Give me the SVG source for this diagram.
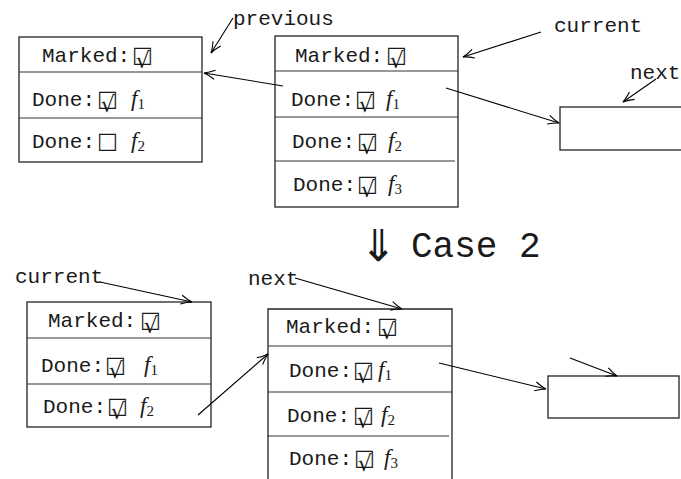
<svg xmlns="http://www.w3.org/2000/svg" width="681" height="479" viewBox="0 0 681 479">
<style>
text{font-family:"Liberation Mono","DejaVu Sans Mono",monospace;font-size:21px;fill:#1a1a1a}
.ck{font-family:"DejaVu Sans",sans-serif;font-size:22px}
.f{font-family:"Liberation Serif",serif;font-style:italic;font-size:23px}
.sub{font-family:"Liberation Serif",serif;font-size:15px}
.big{font-size:36px}
.dn{font-family:"DejaVu Sans",sans-serif;font-size:44px}
.box{fill:#fff;stroke:#222;stroke-width:1.3}
.div{stroke:#333;stroke-width:1.2;fill:none}
.con line{stroke:#000;stroke-width:1.1;fill:none;marker-end:url(#ah)}
</style>
<defs>
<marker id="ah" markerUnits="userSpaceOnUse" markerWidth="14" markerHeight="12" viewBox="-12 -6 14 12" refX="0" refY="0" orient="auto">
<path d="M-11,-4.5 Q-5,-1.2 0,0 Q-5,1.2 -11,4.5" fill="none" stroke="#000" stroke-width="1.1"/>
</marker>
</defs>
<rect width="681" height="479" fill="#fff"/>

<g id="boxA">
<rect class="box" x="19" y="37" width="183" height="125"/>
<line class="div" x1="19" y1="72" x2="202" y2="72"/>
<line class="div" x1="19" y1="118" x2="202" y2="118"/>
<text x="42" y="62">Marked:<tspan class="ck" x="132" dx="0 -17" dy="0 6">□√</tspan></text>
<text x="32" y="106">Done:<tspan class="ck" x="97" dx="0 -17" dy="0 6">□√</tspan><tspan class="f" x="131" y="106">f</tspan><tspan class="sub" y="109">1</tspan></text>
<text x="32" y="148">Done:<tspan class="ck" x="97">□</tspan><tspan class="f" x="131">f</tspan><tspan class="sub" dy="3">2</tspan></text>
</g>

<g id="boxB">
<rect class="box" x="275" y="36" width="183" height="171"/>
<line class="div" x1="275" y1="71" x2="458" y2="71"/>
<line class="div" x1="275" y1="117" x2="458" y2="117"/>
<line class="div" x1="275" y1="161" x2="455" y2="161"/>
<text x="295" y="62">Marked:<tspan class="ck" x="386" dx="0 -17" dy="0 6">□√</tspan></text>
<text x="291" y="106">Done:<tspan class="ck" x="355" dx="0 -17" dy="0 6">□√</tspan><tspan class="f" x="386" y="106">f</tspan><tspan class="sub" y="109">1</tspan></text>
<text x="292" y="148">Done:<tspan class="ck" x="357" dx="0 -17" dy="0 6">□√</tspan><tspan class="f" x="388" y="148">f</tspan><tspan class="sub" y="151">2</tspan></text>
<text x="293" y="191">Done:<tspan class="ck" x="357" dx="0 -17" dy="0 6">□√</tspan><tspan class="f" x="388" y="191">f</tspan><tspan class="sub" y="194">3</tspan></text>
</g>

<g id="boxC">
<rect class="box" x="560" y="107" width="130" height="43"/>
</g>

<g id="boxD">
<rect class="box" x="27" y="302" width="184" height="125"/>
<line class="div" x1="27" y1="338" x2="211" y2="338"/>
<line class="div" x1="27" y1="384" x2="211" y2="384"/>
<text x="48" y="327">Marked:<tspan class="ck" x="140" dx="0 -17" dy="0 6">□√</tspan></text>
<text x="41" y="372">Done:<tspan class="ck" x="105" dx="0 -17" dy="0 6">□√</tspan><tspan class="f" x="144" y="372">f</tspan><tspan class="sub" y="375">1</tspan></text>
<text x="43" y="413">Done:<tspan class="ck" x="107" dx="0 -17" dy="0 6">□√</tspan><tspan class="f" x="140" y="413">f</tspan><tspan class="sub" y="416">2</tspan></text>
</g>

<g id="boxE">
<path class="box" d="M268,480 V309 H452 V480"/>
<line class="div" x1="268" y1="346" x2="452" y2="346"/>
<line class="div" x1="268" y1="392" x2="452" y2="392"/>
<line class="div" x1="267" y1="436" x2="449" y2="436"/>
<text x="286" y="333">Marked:<tspan class="ck" x="377" dx="0 -17" dy="0 6">□√</tspan></text>
<text x="289" y="377">Done:<tspan class="ck" x="353" dx="0 -17" dy="0 6">□√</tspan><tspan class="f" x="378" y="377">f</tspan><tspan class="sub" y="380">1</tspan></text>
<text x="287" y="422">Done:<tspan class="ck" x="353" dx="0 -17" dy="0 6">□√</tspan><tspan class="f" x="381" y="422">f</tspan><tspan class="sub" y="425">2</tspan></text>
<text x="289" y="465">Done:<tspan class="ck" x="354" dx="0 -17" dy="0 6">□√</tspan><tspan class="f" x="384" y="465">f</tspan><tspan class="sub" y="468">3</tspan></text>
</g>

<g id="boxF">
<rect class="box" x="548" y="376" width="131" height="42"/>
</g>

<g id="labels">
<text x="233" y="25">previous</text>
<text x="554" y="32">current</text>
<text x="630" y="79">next</text>
<text x="15" y="283">current</text>
<text x="248" y="285">next</text>
<text x="360" y="261"><tspan class="dn">⇓</tspan><tspan class="big" x="411" y="257">Case 2</tspan></text>
</g>

<g id="connectors" class="con">
<line x1="233" y1="18" x2="211" y2="53"/>
<line x1="541" y1="32" x2="463" y2="57"/>
<line x1="656" y1="79" x2="623" y2="102"/>
<line x1="283" y1="86" x2="204" y2="73"/>
<line x1="446" y1="88" x2="559" y2="123"/>
<line x1="100" y1="282" x2="192" y2="302"/>
<line x1="295" y1="278" x2="402" y2="309"/>
<line x1="198" y1="415" x2="268" y2="354"/>
<line x1="439" y1="363" x2="546" y2="389"/>
<line x1="570" y1="358" x2="617" y2="376"/>
</g>
</svg>
